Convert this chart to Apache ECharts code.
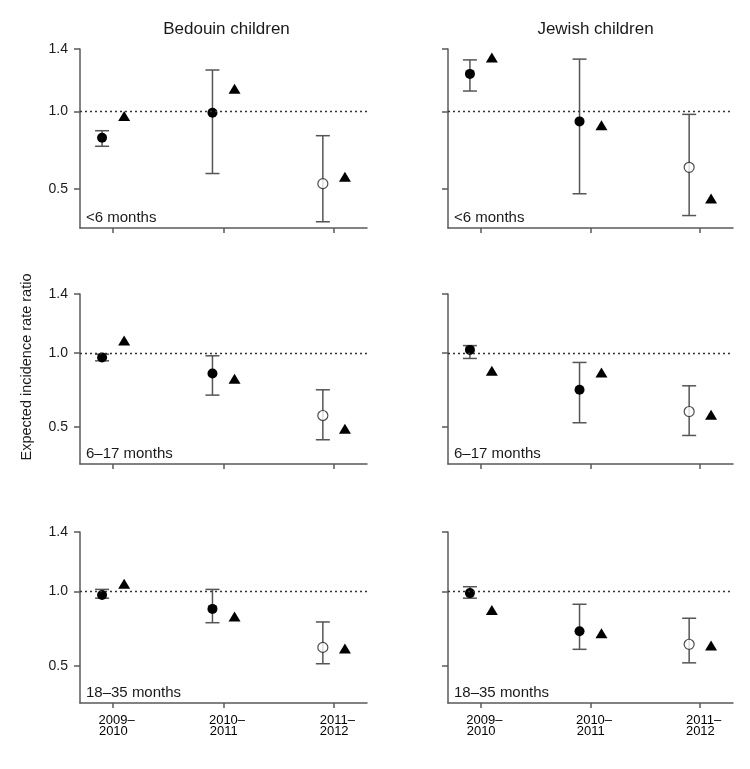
<!DOCTYPE html>
<html>
<head>
<meta charset="utf-8">
<script src="https://cdn.jsdelivr.net/npm/echarts@6/dist/echarts.min.js"></script>
<style>
html,body{margin:0;padding:0;background:#fff;}
#chart{width:750px;height:769px;}
</style>
</head>
<body>
<div id="chart"></div>
<script>
// ---------- data ----------
const categories = ['2009\u2013\n2010\u2002', '2010\u2013\n2011\u2002', '2011\u2013\n2012\u2002'];
const groups = ['Bedouin children', 'Jewish children'];
const ageBands = ['<6 months', '6\u201317 months', '18\u201335 months'];
const yTicks = [0.5, 1.0, 1.4];
const xTicks = [1, 2, 3];
const hollow = [false, false, true];
const yAxisTitle = 'Expected incidence rate ratio';

// observed ratio (circles), CI low, CI high, comparison (triangles)
const bedouinLt6Obs = [0.83, 0.99, 0.535];
const bedouinLt6Lo  = [0.775, 0.60, 0.29];
const bedouinLt6Hi  = [0.875, 1.265, 0.843];
const bedouinLt6Tri = [0.97, 1.145, 0.58];

const jewishLt6Obs = [1.24, 0.935, 0.64];
const jewishLt6Lo  = [1.13, 0.47, 0.33];
const jewishLt6Hi  = [1.33, 1.335, 0.98];
const jewishLt6Tri = [1.345, 0.91, 0.44];

const bedouin617Obs = [0.97, 0.862, 0.578];
const bedouin617Lo  = [0.948, 0.716, 0.414];
const bedouin617Hi  = [0.993, 0.982, 0.752];
const bedouin617Tri = [1.085, 0.826, 0.488];

const jewish617Obs = [1.022, 0.752, 0.605];
const jewish617Lo  = [0.964, 0.529, 0.443];
const jewish617Hi  = [1.051, 0.937, 0.779];
const jewish617Tri = [0.88, 0.869, 0.583];

const bedouin1835Obs = [0.976, 0.883, 0.624];
const bedouin1835Lo  = [0.955, 0.79, 0.514];
const bedouin1835Hi  = [1.014, 1.014, 0.795];
const bedouin1835Tri = [1.052, 0.831, 0.617];

const jewish1835Obs = [0.989, 0.732, 0.645];
const jewish1835Lo  = [0.955, 0.611, 0.52];
const jewish1835Hi  = [1.032, 0.914, 0.82];
const jewish1835Tri = [0.876, 0.719, 0.636];

const panels = [
  {obs: bedouinLt6Obs, lo: bedouinLt6Lo, hi: bedouinLt6Hi, tri: bedouinLt6Tri, age: 0, col: 0},
  {obs: jewishLt6Obs, lo: jewishLt6Lo, hi: jewishLt6Hi, tri: jewishLt6Tri, age: 0, col: 1},
  {obs: bedouin617Obs, lo: bedouin617Lo, hi: bedouin617Hi, tri: bedouin617Tri, age: 1, col: 0},
  {obs: jewish617Obs, lo: jewish617Lo, hi: jewish617Hi, tri: jewish617Tri, age: 1, col: 1},
  {obs: bedouin1835Obs, lo: bedouin1835Lo, hi: bedouin1835Hi, tri: bedouin1835Tri, age: 2, col: 0},
  {obs: jewish1835Obs, lo: jewish1835Lo, hi: jewish1835Hi, tri: jewish1835Tri, age: 2, col: 1}
];

// ---------- layout ----------
const FONT = '"Liberation Sans", Arial, Helvetica, sans-serif';
const colLayout = [{left: 80, width: 287}, {left: 448, width: 285}];
const rowLayout = [{top: 49, height: 179}, {top: 294, height: 170}, {top: 532, height: 171}];
const AXIS = '#5a5a5a';
const TEXT = '#1a1a1a';
const offset = 0.1;

const chart = echarts.init(document.getElementById('chart'), null, {renderer: 'canvas'});

const grids = [], xAxes = [], yAxes = [], series = [], graphics = [];

panels.forEach((p, i) => {
  const c = colLayout[p.col], r = rowLayout[p.age];
  grids.push({left: c.left, top: r.top, width: c.width, height: r.height, containLabel: false});
  const bottomRow = p.age === 2;
  xAxes.push({
    type: 'value', gridIndex: i, min: 0.7, max: 3.3,
    axisLine: {show: true, onZero: false, lineStyle: {color: AXIS, width: 1.5}},
    axisTick: {show: true, length: 5, customValues: xTicks, lineStyle: {color: AXIS, width: 1.5}},
    axisLabel: {
      show: bottomRow, customValues: xTicks, margin: 12,
      formatter: v => categories[Math.round(v) - 1] || '',
      color: '#000', fontFamily: FONT, fontSize: 13, lineHeight: 11, padding: [0, 0, 0, 7]
    },
    splitLine: {show: false}
  });
  yAxes.push({
    type: 'value', gridIndex: i, min: 0.25, max: 1.4,
    axisLine: {show: true, lineStyle: {color: AXIS, width: 1.5}},
    axisTick: {show: true, length: 6, customValues: yTicks, lineStyle: {color: AXIS, width: 1.5}},
    axisLabel: {
      show: p.col === 0, customValues: yTicks, margin: 12,
      formatter: v => v.toFixed(1),
      color: TEXT, fontFamily: FONT, fontSize: 14
    },
    splitLine: {show: false}
  });

  // error bars
  series.push({
    type: 'custom', xAxisIndex: i, yAxisIndex: i, z: 1, silent: true,
    data: p.obs.map((_, k) => [xTicks[k] - offset, p.lo[k], p.hi[k]]),
    encode: {x: 0, y: [1, 2]},
    renderItem: (params, api) => {
      const x = api.value(0);
      const a = api.coord([x, api.value(1)]);
      const b = api.coord([x, api.value(2)]);
      const hw = 7;
      const st = {stroke: '#555', lineWidth: 1.5};
      return {type: 'group', children: [
        {type: 'line', shape: {x1: a[0], y1: a[1], x2: b[0], y2: b[1]}, style: st},
        {type: 'line', shape: {x1: a[0] - hw, y1: a[1], x2: a[0] + hw, y2: a[1]}, style: st},
        {type: 'line', shape: {x1: b[0] - hw, y1: b[1], x2: b[0] + hw, y2: b[1]}, style: st}
      ]};
    }
  });
  // circles
  series.push({
    type: 'scatter', xAxisIndex: i, yAxisIndex: i, z: 3, silent: true,
    symbol: 'circle', symbolSize: 10,
    data: p.obs.map((v, k) => ({
      value: [xTicks[k] - offset, v],
      itemStyle: hollow[k] ? {color: '#fff', borderColor: '#222', borderWidth: 1.2}
                           : {color: '#000', borderColor: '#000', borderWidth: 0, opacity: 1}
    })),
    markLine: {
      silent: true, symbol: 'none', label: {show: false},
      lineStyle: {type: [2, 3], color: '#333', width: 1.3},
      data: [{yAxis: 1.0}]
    }
  });
  // triangles
  series.push({
    type: 'scatter', xAxisIndex: i, yAxisIndex: i, z: 3, silent: true,
    symbol: 'triangle', symbolSize: [12, 10],
    itemStyle: {color: '#000', opacity: 1},
    data: p.tri.map((v, k) => [xTicks[k] + offset, v])
  });

  // panel label
  graphics.push({
    type: 'text', x: c.left + 6, y: r.top + r.height - 10,
    style: {text: ageBands[p.age], font: '15px ' + FONT, fill: TEXT,
            textAlign: 'left', textVerticalAlign: 'middle', align: 'left', verticalAlign: 'middle'}
  });
});

const titles = groups.map((g, j) => ({
  text: g, left: colLayout[j].left + colLayout[j].width / 2 - (j === 0 ? 2 : 0), top: 16, textAlign: 'center',
  textStyle: {fontFamily: FONT, fontSize: 17, fontWeight: 'normal', color: TEXT}
}));

graphics.push({
  type: 'text', x: 27, y: 367, rotation: Math.PI / 2,
  style: {text: yAxisTitle, font: '14.5px ' + FONT, fill: TEXT,
          textAlign: 'center', textVerticalAlign: 'middle', align: 'center', verticalAlign: 'middle'}
});

chart.setOption({
  animation: false,
  backgroundColor: '#fff',
  title: titles,
  grid: grids,
  xAxis: xAxes,
  yAxis: yAxes,
  series: series,
  graphic: graphics
});
</script>
</body>
</html>
